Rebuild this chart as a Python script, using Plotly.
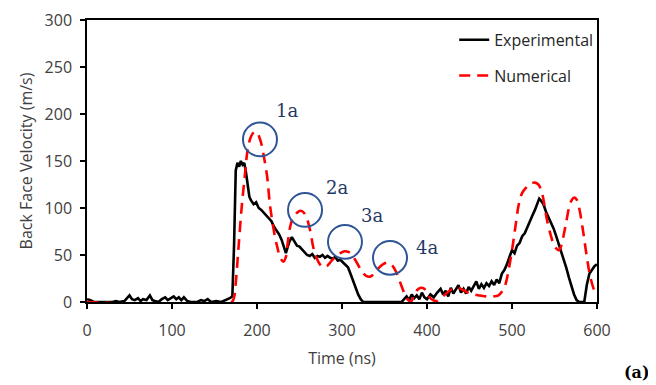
import plotly.graph_objects as go

# ---------------- data ----------------
exp_time = [0, 4, 8, 30, 34, 38, 44, 48, 50, 53, 56, 60, 63, 66, 70, 74, 77, 80, 84, 88, 92, 95, 98,
            102, 105, 108, 111, 114, 118, 122, 130, 134, 138, 142, 146, 152, 158, 164, 168, 171,
            173, 175, 177, 179, 181, 183, 185, 187, 189, 191, 193, 196, 199, 202, 205, 208, 211,
            214, 217, 220, 223, 226, 229, 232, 234, 236, 238, 241, 244, 247, 250, 253, 256, 259,
            262, 265, 268, 271, 274, 277, 280, 283, 286, 289, 292, 295, 298, 301, 304, 307, 310,
            313, 316, 319, 322, 325, 370, 373, 376, 379, 382, 385, 388, 391, 394, 397, 400, 404,
            408, 412, 416, 419, 422, 425, 428, 431, 434, 437, 440, 443, 446, 449, 452, 455, 458,
            461, 464, 467, 470, 473, 476, 479, 482, 485, 488, 491, 494, 497, 500, 503, 506, 509,
            512, 515, 518, 521, 524, 527, 530, 532, 534, 537, 540, 543, 546, 549, 552, 555, 558,
            561, 564, 567, 570, 573, 576, 579, 585, 588, 591, 594, 597, 600]
exp_velocity = [3, 2, 0, 0, 1, 0, 1, 5, 7, 3, 2, 4, 1, 3, 2, 7, 2, 1, 0, 3, 5, 2, 4,
                6, 3, 5, 2, 5, 1, 0, 0, 2, 1, 3, 0, 1, 0, 2, 4, 6,
                60, 140, 148, 144, 150, 146, 148, 138, 125, 112, 108, 104, 106, 100, 98, 95, 92,
                88, 86, 80, 76, 72, 66, 58, 52, 58, 64, 69, 64, 60, 59, 56, 54, 50,
                49, 51, 47, 49, 48, 50, 47, 49, 47, 46, 48, 44, 45, 42, 40, 37, 30,
                22, 15, 8, 3, 0, 0, 3, 6, 2, 8, 4, 7, 3, 10, 5, 3, 8,
                5, 10, 14, 8, 12, 6, 15, 9, 13, 18, 10, 14, 9, 16, 12, 17, 22,
                14, 19, 15, 20, 17, 22, 18, 24, 20, 30, 34, 40, 48, 55, 52, 60, 63,
                70, 73, 80, 86, 92, 98, 106, 110, 108, 104, 96, 90, 84, 78, 70, 62, 54,
                46, 36, 26, 16, 8, 2, 0, 0, 18, 30, 34, 38, 40]

num_time = [0, 170, 173, 175, 178, 182, 186, 189, 193, 197, 200, 204, 208, 212, 215, 218, 221, 224,
            227, 231, 234, 236, 239, 242, 246, 251, 255, 259, 263, 266, 270, 274, 278, 282, 286,
            292, 298, 303, 308, 313, 318, 323, 328, 333, 338, 343, 348, 353, 358, 362, 366, 370,
            374, 378, 381, 385, 390, 395, 399, 403, 407, 411, 415, 420, 425, 430, 436, 442, 448,
            455, 462, 470, 478, 484, 488, 492, 496, 500, 504, 508, 512, 517, 522, 527, 531, 535,
            538, 541, 545, 548, 552, 555, 558, 561, 564, 567, 570, 573, 576, 579, 582, 585, 588,
            591, 594, 597, 600]
num_velocity = [0, 0, 5, 20, 55, 101, 137, 162, 176, 181, 180, 172, 155, 133, 105, 86, 70, 58,
                48, 43, 48, 62, 80, 89, 94, 97, 95, 88, 74, 59, 47, 40, 37, 38, 42,
                48, 52, 54, 53, 48, 41, 33, 28, 27, 30, 36, 40, 42, 40, 35, 27, 17,
                8, 2, 0, 8, 14, 15, 12, 5, 2, 1, 3, 7, 11, 14, 15, 13, 10,
                8, 7, 6, 6, 7, 11, 18, 34, 55, 80, 104, 116, 122, 126, 127, 125, 117,
                104, 88, 73, 64, 57, 55, 60, 72, 86, 100, 108, 111, 109, 100, 85, 67, 48,
                32, 20, 12, 8]

x_ticks = [0, 100, 200, 300, 400, 500, 600]
y_ticks = [0, 50, 100, 150, 200, 250, 300]

peak_labels = ["1a", "2a", "3a", "4a"]
peak_centers_t = [203.5, 256.5, 303.5, 356.5]
peak_centers_v = [173, 98, 64, 47]
label_t = [235, 294, 335, 400]
label_v = [204, 122, 92, 58]

# ---------------- figure ----------------
fig = go.Figure()
fig.add_trace(go.Scatter(x=exp_time, y=exp_velocity, mode="lines", name="Experimental",
                         legendgroup="a",
                         line=dict(color="black", width=2.6)))
fig.add_trace(go.Scatter(x=num_time, y=num_velocity, mode="lines", name="Numerical",
                         legendgroup="b", line_shape="spline",
                         line=dict(color="#FF0000", width=2.6, dash="11px,7px")))

circle_color = "#2F5597"
for ct, cv in zip(peak_centers_t, peak_centers_v):
    fig.add_shape(type="circle", xref="x", yref="y",
                  x0=ct - 20, x1=ct + 20, y0=cv - 18, y1=cv + 18,
                  line=dict(color=circle_color, width=2))
for lab, lt, lv in zip(peak_labels, label_t, label_v):
    fig.add_annotation(x=lt, y=lv, text=lab, showarrow=False, xref="x", yref="y",
                       font=dict(family="DejaVu Serif", size=18, color="#1F3864"))

fig.add_annotation(x=1.0, y=0.0, xref="paper", yref="paper", xanchor="center", yanchor="middle",
                   text="<b>(a)</b>", showarrow=False, xshift=40, yshift=-70,
                   font=dict(family="DejaVu Serif", size=16, color="black"))

axis_font = dict(family="Open Sans", size=16, color="#404040")
fig.update_layout(
    width=648, height=377,
    margin=dict(l=79, r=59, t=12, b=83),
    paper_bgcolor="white", plot_bgcolor="white",
    font=axis_font,
    legend=dict(x=0.72, y=0.99, xanchor="left", yanchor="top", bgcolor="rgba(0,0,0,0)",
                font=dict(family="Open Sans", size=16, color="#262626"),
                traceorder="grouped", tracegroupgap=12),
    xaxis=dict(range=[0, 600], tickvals=x_ticks, showgrid=False, zeroline=False,
               showline=True, linecolor="black", linewidth=1.5, mirror=True,
               ticks="outside", ticklen=5, tickcolor="black", tickwidth=1.5,
               ticklabelstandoff=8, automargin=False,
               title=dict(text="Time (ns)", font=axis_font, standoff=13),
               tickfont=axis_font),
    yaxis=dict(range=[0, 300], tickvals=y_ticks, showgrid=False, zeroline=False,
               showline=True, linecolor="black", linewidth=1.5, mirror=True,
               ticks="outside", ticklen=5, tickcolor="black", tickwidth=1.5,
               ticklabelstandoff=5, automargin=False,
               title=dict(text="Back Face Velocity (m/s)", font=axis_font, standoff=8),
               tickfont=axis_font),
)

fig.write_html("out.html")
